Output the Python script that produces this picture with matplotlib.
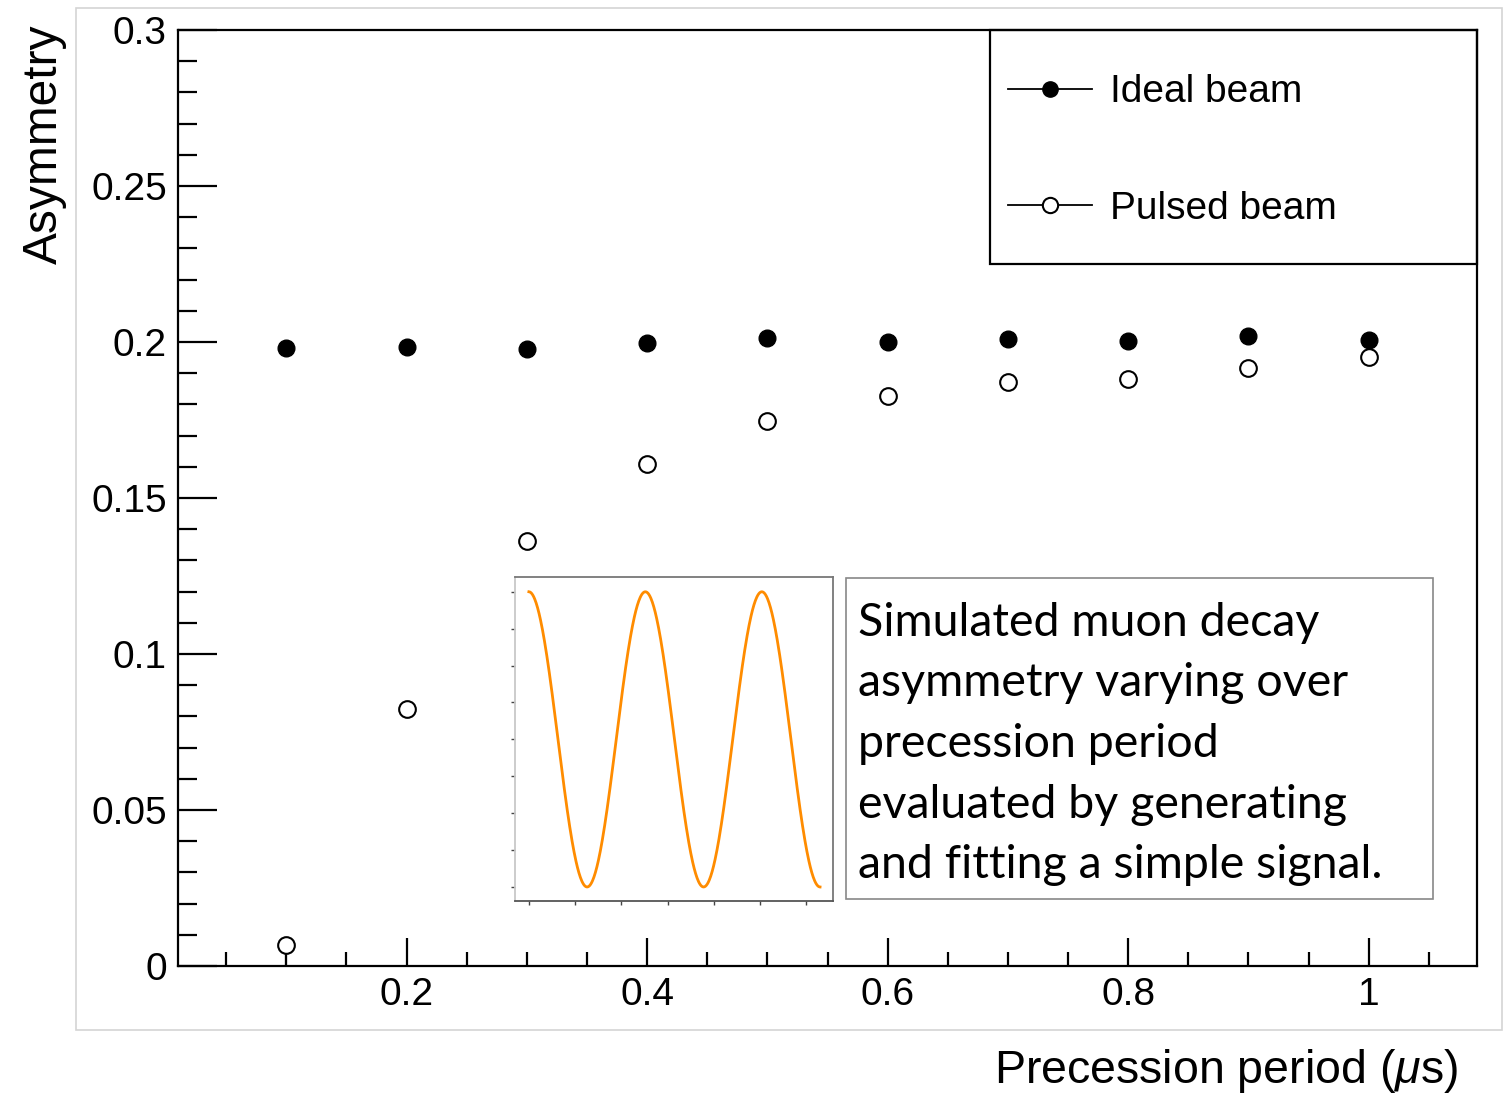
import matplotlib
matplotlib.use("Agg")
import matplotlib.pyplot as plt
import numpy as np
from matplotlib.patches import Rectangle
from matplotlib.lines import Line2D
from matplotlib.ticker import MultipleLocator

# ---------------- data ----------------
period_us = [0.1, 0.2, 0.3, 0.4, 0.5, 0.6, 0.7, 0.8, 0.9, 1.0]
ideal_asym = [0.1981, 0.1984, 0.1978, 0.1997, 0.2013, 0.2000, 0.2010, 0.2003, 0.2019, 0.2006]
pulsed_asym = [0.0067, 0.0824, 0.1362, 0.1609, 0.1747, 0.1827, 0.1872, 0.1881, 0.1917, 0.1952]
pulsed_err_low = [0.0067, 0, 0, 0, 0, 0, 0, 0, 0, 0]
pulsed_err_high = [0, 0, 0, 0, 0, 0, 0, 0, 0, 0]

legend_labels = ["Ideal beam", "Pulsed beam"]
x_ticks = [0.2, 0.4, 0.6, 0.8, 1.0]
x_ticklabels = ["0.2", "0.4", "0.6", "0.8", "1"]
y_ticks = [0, 0.05, 0.1, 0.15, 0.2, 0.25, 0.3]
y_ticklabels = ["0", "0.05", "0.1", "0.15", "0.2", "0.25", "0.3"]
x_label = "Precession period ($\\mu$s)"
y_label = "Asymmetry"
note_lines = ["Simulated muon decay",
              "asymmetry varying over",
              "precession period",
              "evaluated by generating",
              "and fitting a simple signal."]

# inset: simple precession signal (cosine)
signal_amplitude = 1.0
signal_period = 2.52
signal_cycles = 2.5
inset_xticks = [0, 1, 2, 3, 4, 5, 6]
inset_yticks = [-1, -0.75, -0.5, -0.25, 0, 0.25, 0.5, 0.75, 1]

# ---------------- style ----------------
plt.rcParams["font.family"] = ["Liberation Sans", "DejaVu Sans"]
plt.rcParams["mathtext.fontset"] = "custom"
plt.rcParams["mathtext.it"] = "Liberation Sans:italic"
plt.rcParams["mathtext.rm"] = "Liberation Sans"

W, H = 1509, 1094
fig = plt.figure(figsize=(W / 100, H / 100), dpi=100)


def fx(px):
    return px / W


def fy(py):
    return 1 - py / H


# outer canvas frame
fig.add_artist(Rectangle((fx(76), fy(1030)), (1502 - 76) / W, (1030 - 8) / H,
                         transform=fig.transFigure, fill=False,
                         edgecolor="#d4d4d4", lw=1.2, zorder=0))

ax = fig.add_axes([fx(178), fy(966), (1477 - 178) / W, (966 - 30) / H])
ax.set_xlim(0.01, 1.09)
ax.set_ylim(0, 0.3)

ax.plot(period_us, ideal_asym, linestyle="none", marker="o", ms=12,
        mfc="black", mec="black", zorder=3)
ax.errorbar(period_us, pulsed_asym, yerr=[pulsed_err_low, pulsed_err_high],
            fmt="none", ecolor="black", elinewidth=1.5, capsize=0, zorder=2)
ax.plot(period_us, pulsed_asym, linestyle="none", marker="o", ms=12,
        mfc="white", mec="black", mew=1.5, zorder=3)

ax.set_xticks(x_ticks, x_ticklabels)
ax.set_yticks(y_ticks, y_ticklabels)
ax.xaxis.set_minor_locator(MultipleLocator(0.05))
ax.yaxis.set_minor_locator(MultipleLocator(0.01))
ax.tick_params(which="both", direction="in", width=1.6, top=False, right=False,
               labelsize=28, color="black")
ax.tick_params(axis="x", which="major", length=20, pad=8)
ax.tick_params(axis="x", which="minor", length=10)
ax.tick_params(axis="y", which="major", length=28, pad=8)
ax.tick_params(axis="y", which="minor", length=14)
for s in ax.spines.values():
    s.set_linewidth(1.6)

# legend
handles = [Line2D([], [], color="black", lw=1.3, marker="o", ms=11,
                  mfc="black", mec="black"),
           Line2D([], [], color="black", lw=1.3, marker="o", ms=11,
                  mfc="white", mec="black", mew=1.5)]
ax.legend(handles, legend_labels, frameon=False, loc="center left",
          bbox_to_anchor=(fx(1008), fy(150.5)), bbox_transform=fig.transFigure,
          borderpad=0, borderaxespad=0, handlelength=2.16, handletextpad=0.45,
          labelspacing=2.06, fontsize=28)
fig.add_artist(Rectangle((fx(990), fy(264)), (1477 - 990) / W, (264 - 30) / H,
                         transform=fig.transFigure, fill=False,
                         edgecolor="black", lw=1.6, zorder=5))

# axis labels
fig.text(fx(44), fy(24), y_label, rotation=90, ha="center", va="top", fontsize=34.5)
fig.text(fx(1458), fy(1083), x_label, ha="right", va="baseline", fontsize=33.5)

# inset
iax = fig.add_axes([fx(515), fy(901), 318 / W, 324 / H])
t = np.linspace(0, signal_cycles * signal_period, 600)
iax.plot(t, signal_amplitude * np.cos(2 * np.pi * t / signal_period),
         color="#ff8c00", lw=2.0)
iax.set_xlim(-0.30, 6.58)
iax.set_ylim(-1.095, 1.10)
iax.set_xticks(inset_xticks)
iax.set_yticks(inset_yticks)
iax.tick_params(labelbottom=False, labelleft=False, direction="out",
                length=3, width=1.0, color="#444444")
iax.spines["left"].set_color("#c8c8c8")
iax.spines["bottom"].set_color("#555555")
iax.spines["top"].set_color("#777777")
iax.spines["right"].set_color("#777777")
for s in iax.spines.values():
    s.set_linewidth(1.3)

# note box
fig.add_artist(Rectangle((fx(846), fy(899)), (1433 - 846) / W, (899 - 578) / H,
                         transform=fig.transFigure, fill=False,
                         edgecolor="#888888", lw=1.2, zorder=5))
for i, line in enumerate(note_lines):
    fig.text(fx(858), fy(636 + i * 60.5), line, ha="left", va="baseline",
             fontsize=33.5, family=["Lato", "DejaVu Sans"])

fig.savefig("out.png", dpi=100)
